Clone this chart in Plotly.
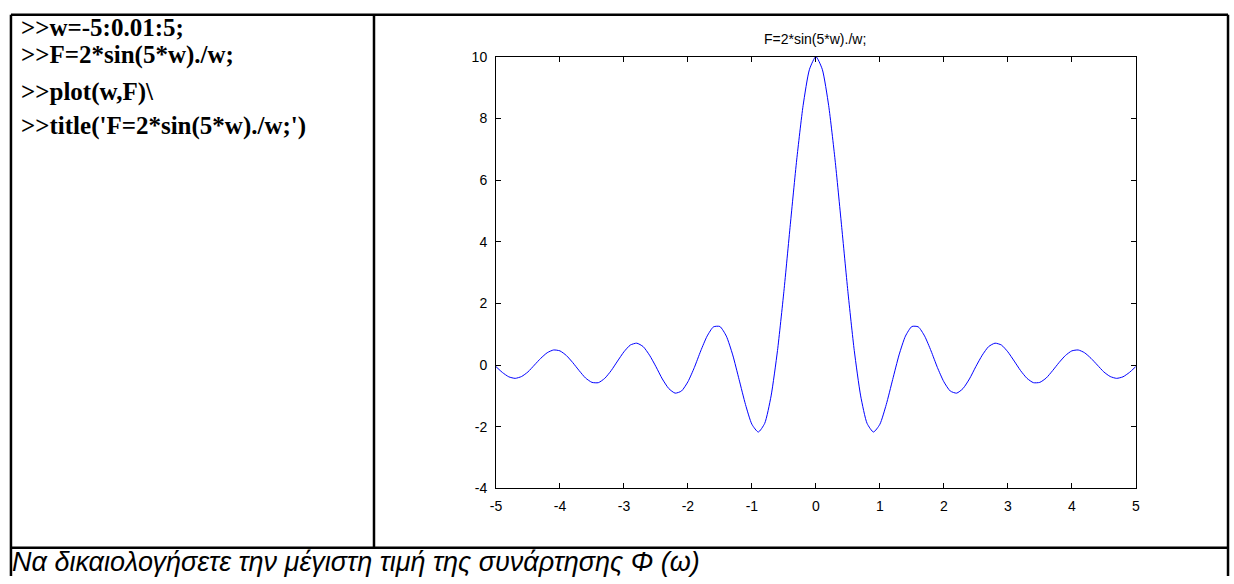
import plotly.graph_objects as go

W, H = 1234, 584

# values (w step 0.1)
w_vals = [round(-5 + 0.1 * i, 1) for i in range(101)]
F_vals = [
    -0.05, -0.24, -0.38, -0.43, -0.37, -0.22, 0.00, 0.22, 0.40, 0.49,
    0.46, 0.31, 0.08, -0.18, -0.42, -0.56, -0.57, -0.43, -0.18, 0.13,
    0.43, 0.65, 0.71, 0.60, 0.32, -0.05, -0.45, -0.76, -0.91, -0.84,
    -0.54, -0.08, 0.46, 0.94, 1.24, 1.25, 0.94, 0.33, -0.47, -1.28,
    -1.92, -2.17, -1.89, -1.00, 0.47, 2.39, 4.55, 6.65, 8.41, 9.59,
    10.00,
    9.59, 8.41, 6.65, 4.55, 2.39, 0.47, -1.00, -1.89, -2.17, -1.92,
    -1.28, -0.47, 0.33, 0.94, 1.25, 1.24, 0.94, 0.46, -0.08, -0.54,
    -0.84, -0.91, -0.76, -0.45, -0.05, 0.32, 0.60, 0.71, 0.65, 0.43,
    0.13, -0.18, -0.43, -0.57, -0.56, -0.42, -0.18, 0.08, 0.31, 0.46,
    0.49, 0.40, 0.22, 0.00, -0.22, -0.37, -0.43, -0.38, -0.24, -0.05,
]
x_ticks = [-5, -4, -3, -2, -1, 0, 1, 2, 3, 4, 5]
y_ticks = [-4, -2, 0, 2, 4, 6, 8, 10]

code_lines = [">>w=-5:0.01:5;", ">>F=2*sin(5*w)./w;", ">>plot(w,F)\\", ">>title('F=2*sin(5*w)./w;')"]
title_text = "F=2*sin(5*w)./w;"
caption = "Να δικαιολογήσετε την μέγιστη τιμή της συνάρτησης Φ (ω)"

def px(x):
    return x / W

def py(y):
    return (H - y) / H

fig = go.Figure()
fig.add_trace(go.Scatter(x=w_vals, y=F_vals, mode="lines",
                         line=dict(color="#0000FF", width=1, shape="spline", smoothing=0.6),
                         hoverinfo="skip", showlegend=False))

axis_common = dict(showgrid=False, zeroline=False, showline=True, linecolor="black", linewidth=1,
                   mirror="allticks", ticks="inside", ticklen=5, tickcolor="black", tickwidth=1,
                   tickfont=dict(family="Liberation Sans, Arial", size=14, color="black"))

fig.update_layout(
    width=W, height=H,
    margin=dict(l=0, r=0, t=0, b=0),
    paper_bgcolor="white", plot_bgcolor="white",
    xaxis=dict(range=[-5, 5], tickvals=x_ticks, ticktext=[str(v) for v in x_ticks],
               domain=[px(494), px(1139)], anchor="y", ticklabelstandoff=5, **axis_common),
    yaxis=dict(range=[-4, 10], tickvals=y_ticks, ticktext=[str(v) for v in y_ticks],
               domain=[py(494), py(50)], anchor="x", ticklabelstandoff=5, **axis_common),
)

# table borders
lw = 2.5
shapes = [
    dict(x0=px(5), x1=px(1232), y0=py(7), y1=py(7)),
    dict(x0=px(5), x1=px(5), y0=py(7), y1=py(584)),
    dict(x0=px(371), x1=px(371), y0=py(7), y1=py(555)),
    dict(x0=px(1232), x1=px(1232), y0=py(7), y1=py(584)),
    dict(x0=px(5), x1=px(1232), y0=py(555), y1=py(555)),
]
for s in shapes:
    fig.add_shape(type="line", xref="paper", yref="paper", line=dict(color="black", width=lw), **s)

# left cell code text
code_y = [20, 48, 86, 121]
for t, yy in zip(code_lines, code_y):
    fig.add_annotation(x=px(13), y=py(yy), xref="paper", yref="paper", text="<b>" + t + "</b>",
                       showarrow=False, xanchor="left", yanchor="middle",
                       font=dict(family="Liberation Serif, Times New Roman", size=25, color="black"))

# chart title
fig.add_annotation(x=px(816), y=py(32), xref="paper", yref="paper", text=title_text, showarrow=False,
                   xanchor="center", yanchor="middle",
                   font=dict(family="Liberation Sans, Arial", size=14, color="black"))

# caption
fig.add_annotation(x=px(4), y=py(570), xref="paper", yref="paper", text="<i>" + caption + "</i>",
                   showarrow=False, xanchor="left", yanchor="middle",
                   font=dict(family="Liberation Sans, Arial", size=27, color="black"))

fig.write_html("out.html")
